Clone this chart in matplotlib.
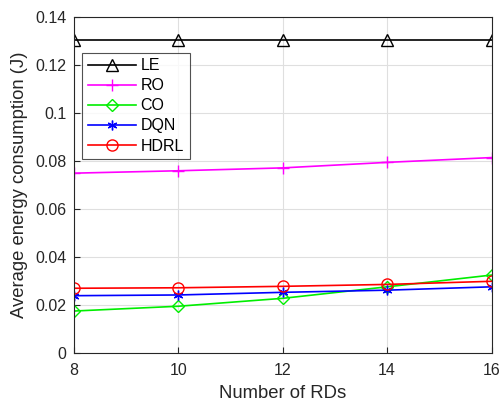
import matplotlib
matplotlib.use("Agg")
import matplotlib.pyplot as plt

plt.rcParams['font.family'] = ['Liberation Sans', 'DejaVu Sans']

# Anzahl der RDs und mittlerer Energieverbrauch je Verfahren
num_rds = [8, 10, 12, 14, 16]
le = [0.1304, 0.1304, 0.1304, 0.1304, 0.1304]
ro = [0.0750, 0.0760, 0.0772, 0.0795, 0.0815]
co = [0.0175, 0.0195, 0.0228, 0.0276, 0.0325]
dqn = [0.0239, 0.0242, 0.0253, 0.0262, 0.0276]
hdrl = [0.0270, 0.0272, 0.0278, 0.0286, 0.0299]

txt = '#262626'
fig = plt.figure(figsize=(5.01, 4.05), dpi=100)
ax = fig.add_axes([74 / 501, 1 - 353 / 405, (491.5 - 74) / 501, (353 - 17.3) / 405])

ax.plot(num_rds, le, color='black', marker='^', markersize=8, mfc='none', mew=1.0, lw=1.2, label='LE')
ax.plot(num_rds, ro, color='#ff00ff', marker='+', markersize=9, mew=1.0, lw=1.2, label='RO')
ax.plot(num_rds, co, color='#00ee00', marker='D', markersize=6.5, mfc='none', mew=1.0, lw=1.2, label='CO')
ax.plot(num_rds, dqn, color='#0000ff', marker=(6, 2, 0), markersize=7, mew=1.0, lw=1.2, label='DQN')
ax.plot(num_rds, hdrl, color='#ff0000', marker='o', markersize=8, mfc='none', mew=1.0, lw=1.2, label='HDRL')

ax.set_xlim(8, 16)
ax.set_ylim(0, 0.14)
ax.set_xticks([8, 10, 12, 14, 16])
ax.set_yticks([0, 0.02, 0.04, 0.06, 0.08, 0.1, 0.12, 0.14])
ax.set_yticklabels(['0', '0.02', '0.04', '0.06', '0.08', '0.1', '0.12', '0.14'])
ax.grid(True, color='#dfdfdf', lw=0.8)
ax.set_axisbelow(True)
ax.tick_params(direction='in', length=4, labelsize=11.5, colors=txt, width=0.8)
ax.tick_params(axis='x', pad=7)
ax.tick_params(axis='y', pad=5.5)
for s in ax.spines.values():
    s.set_color('#262626')
    s.set_linewidth(0.8)

ax.set_xlabel('Number of RDs', fontsize=13.3, color=txt, labelpad=5)
ax.set_ylabel('Average energy consumption (J)', fontsize=13.3, color=txt, labelpad=5)

leg = ax.legend(loc='upper left', bbox_to_anchor=(0.02, 0.895), fontsize=11.5, frameon=True,
                fancybox=False, edgecolor='#262626', handlelength=3.0, borderpad=0.35,
                labelspacing=0.32, handletextpad=0.3, borderaxespad=0)
leg.get_frame().set_linewidth(0.8)
for t in leg.get_texts():
    t.set_color('black')

fig.savefig('out.png', dpi=100)
